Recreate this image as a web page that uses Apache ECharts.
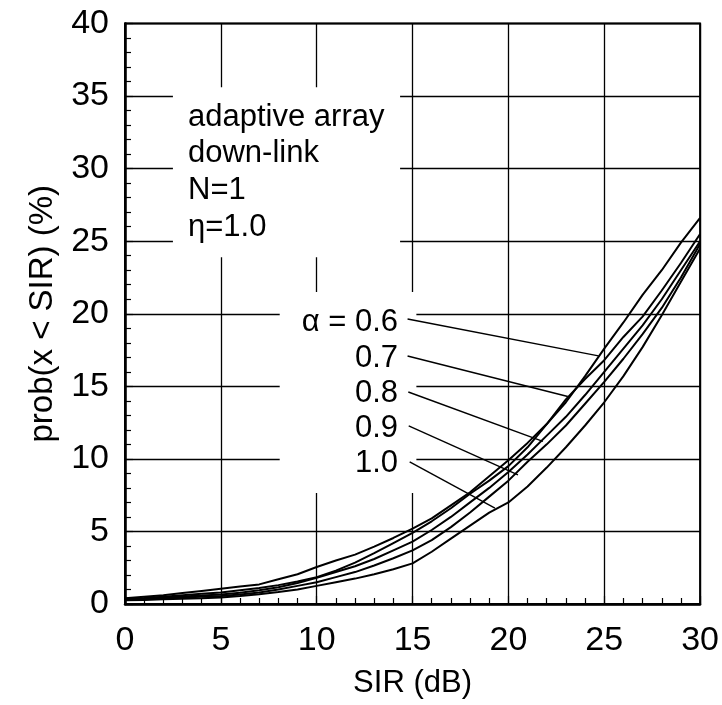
<!DOCTYPE html>
<html><head><meta charset="utf-8">
<script src="https://cdn.jsdelivr.net/npm/echarts@6/dist/echarts.min.js"></script>
<style>html,body{margin:0;padding:0;background:#fff}#c{width:722px;height:705px}</style>
</head><body><div id="c"></div>
<script>
// ---- data ----
const sir = [0,1,2,3,4,5,6,7,8,9,10,11,12,13,14,15,16,17,18,19,20,21,22,23,24,25,26,27,28,29,30];
const probA06 = [0.4,0.5,0.6,0.75,0.9,1.05,1.2,1.35,1.7,2.05,2.55,3.0,3.4,3.95,4.55,5.2,5.9,6.8,7.7,8.8,9.9,11.1,12.4,13.9,15.7,17.6,19.4,21.3,23.0,24.9,26.6];
const probA07 = [0.35,0.42,0.5,0.6,0.7,0.8,0.95,1.1,1.3,1.55,1.85,2.3,2.85,3.5,4.2,4.9,5.7,6.6,7.6,8.5,9.5,10.8,12.4,14.1,15.5,16.8,18.4,19.8,21.6,23.5,25.5];
const probA08 = [0.3,0.37,0.44,0.52,0.58,0.65,0.78,0.95,1.15,1.45,1.8,2.2,2.6,3.1,3.7,4.3,5.1,6.0,7.0,8.0,9.1,10.3,11.6,12.9,14.4,16.0,17.6,19.2,21.0,23.0,25.0];
const probA09 = [0.28,0.33,0.38,0.44,0.5,0.55,0.65,0.8,1.0,1.25,1.5,1.85,2.2,2.65,3.15,3.7,4.4,5.3,6.3,7.4,8.5,9.8,11.0,12.3,13.8,15.3,16.9,18.6,20.4,22.5,24.8];
const probA10 = [0.25,0.28,0.32,0.36,0.4,0.45,0.55,0.67,0.82,1.0,1.25,1.5,1.75,2.05,2.4,2.8,3.6,4.5,5.4,6.3,7.0,8.1,9.4,10.8,12.3,13.9,15.7,17.7,19.9,22.2,24.5];
const alphaLabels = ['α = 0.6','0.7','0.8','0.9','1.0'];
const leaderStart = [[14.74,19.64],[14.74,17.09],[14.78,14.61],[14.8,12.27],[14.85,9.79]];
const leaderEnd = [[24.7,17.1],[23.1,14.3],[21.8,11.2],[20.5,8.9],[19.3,6.6]];
const xTickLabels = ['0','5','10','15','20','25','30'];
const yTickLabels = ['0','5','10','15','20','25','30','35','40'];
const infoLines = ['adaptive array','down-link','N=1','η=1.0'];
const xName = 'SIR (dB)';
const yName = 'prob(x < SIR) (%)';

// ---- layout ----
const FONT = "'Liberation Sans', Arial, sans-serif";
const maskA = [[2.5,35.6],[14.35,23.9]];
const maskB = [[8.07,21.5],[15.2,7.65]];

const curves = [probA06, probA07, probA08, probA09, probA10];
const series = curves.map((vals, i) => ({
  type: 'line', name: alphaLabels[i], data: sir.map((x, k) => [x, vals[k]]),
  showSymbol: false, smooth: false, z: 3,
  lineStyle: {color: '#000', width: 2}
}));
leaderStart.forEach((s, i) => {
  series.push({type: 'line', data: [s, leaderEnd[i]], showSymbol: false, z: 3,
    lineStyle: {color: '#000', width: 1.4}});
});

const axisCommon = {
  type: 'value',
  axisLine: {show: true, lineStyle: {color: '#000', width: 2.5}},
  axisTick: {show: true, inside: true, length: 8, lineStyle: {color: '#000', width: 1.2}},
  minorTick: {show: true, splitNumber: 5, length: 6, lineStyle: {color: '#000', width: 1.2}},
  splitLine: {show: true, lineStyle: {color: '#000', width: 1.3}},
  axisLabel: {color: '#000', fontSize: 34, fontFamily: FONT, margin: 16},
  nameTextStyle: {color: '#000', fontSize: 31, fontFamily: FONT}
};

const chart = echarts.init(document.getElementById('c'), null, {renderer: 'canvas'});
chart.setOption({
  animation: false,
  backgroundColor: '#fff',
  grid: {left: 125, right: 21, top: 23.5, bottom: 101, show: true, borderColor: '#000', borderWidth: 2},
  xAxis: Object.assign({}, axisCommon, {
    min: 0, max: 30, interval: 5, name: xName, nameLocation: 'middle', nameGap: 64,
    axisLabel: Object.assign({}, axisCommon.axisLabel, {margin: 20, formatter: (v) => xTickLabels[Math.round(v / 5)]})
  }),
  yAxis: Object.assign({}, axisCommon, {
    min: 0, max: 40, interval: 5, name: yName, nameLocation: 'middle', nameGap: 66, nameRotate: 90,
    nameTextStyle: {color: '#000', fontSize: 33, fontFamily: FONT},
    axisLabel: Object.assign({}, axisCommon.axisLabel, {formatter: (v) => yTickLabels[Math.round(v / 5)]})
  }),
  series: series
});

function px(p) { return chart.convertToPixel({gridIndex: 0}, p); }
const g = [];
[maskA, maskB].forEach(m => {
  const a = px(m[0]), b = px(m[1]);
  g.push({type: 'rect', z: 1, silent: true, shape: {x: a[0], y: a[1], width: b[0] - a[0], height: b[1] - a[1]},
    style: {fill: '#fff'}});
});
const infoY = [117, 153, 190, 227];
infoLines.forEach((t, i) => {
  g.push({type: 'text', z: 10, x: 188, y: infoY[i], style: {text: t, fill: '#000', font: '31px ' + FONT,
    textAlign: 'left', textVerticalAlign: 'middle'}});
});
const labY = [322, 358, 393, 428, 463];
alphaLabels.forEach((t, i) => {
  g.push({type: 'text', z: 10, x: 398, y: labY[i], style: {text: t, fill: '#000', font: '31px ' + FONT,
    textAlign: 'right', textVerticalAlign: 'middle'}});
});
chart.setOption({graphic: {elements: g}});
</script></body></html>
